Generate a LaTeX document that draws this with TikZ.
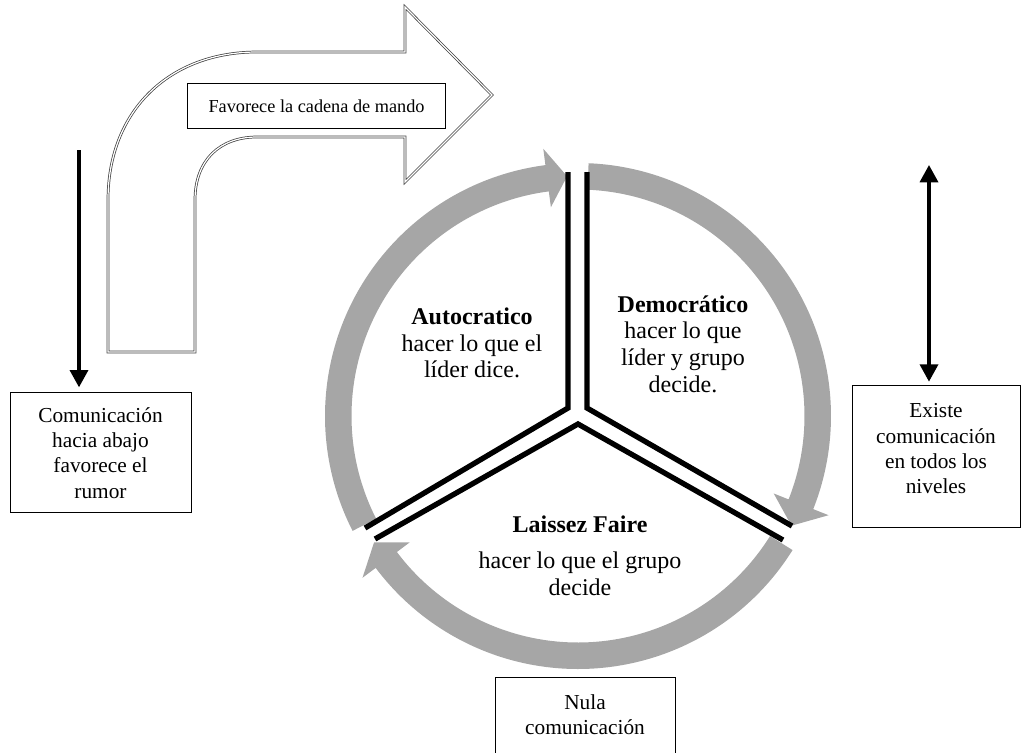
\documentclass[tikz,border=0pt]{standalone}
\usepackage{fontspec}
\setmainfont{Liberation Serif}
\usetikzlibrary{arrows.meta}
\definecolor{ringgray}{RGB}{166,166,166}

\begin{document}
\begin{tikzpicture}[x=0.75pt,y=-0.75pt,
  ringpart/.style={fill=ringgray,draw=none},
  divider/.style={line width=4pt,line cap=butt,line join=miter},
  bentarrow/.style={draw=black!75,double=white,double distance=0.9pt,line width=0.55pt,line join=miter},
  infobox/.style={draw=black,line width=0.8pt,fill=white,inner sep=0pt},
  boxtext/.style={align=center,font=\fontsize{16}{19}\selectfont,inner sep=0pt},
  sectortext/.style={align=center,font=\fontsize{18}{20}\selectfont,inner sep=0pt},
  flow/.style={line width=2.6pt,-{Triangle[width=13.5pt,length=13pt]}},
  bothflow/.style={line width=2.6pt,{Triangle[width=13.5pt,length=13pt]}-{Triangle[width=13.5pt,length=13pt]}}]

\clip (0,0) rectangle (1021,753);
\useasboundingbox (0,0) rectangle (1021,753);

% bent arrow in the upper left
\path[bentarrow,fill=white] (108,352) -- (108,200)
  .. controls (108,110) and (170,52) .. (257,52)
  -- (405,52) -- (405,7) -- (492,95) -- (405,182) -- (405,137) -- (257,137)
  .. controls (220,137) and (195,160) .. (195,200)
  -- (195,352) -- cycle;
\node[infobox,minimum width=193.5pt,minimum height=33.75pt,anchor=north west,
      font=\fontsize{13.7}{16}\selectfont] (chain) at (187,83) {Favorece la cadena de mando};

% circular arrows of the ring (angles measured clockwise on the page)
\newcommand{\ringseg}[3]{%
  \fill[ringpart] (#1:253) arc[start angle=#1,end angle=#2,radius=253]
    -- (#2:269.5) -- (#3:240) -- (#2:210.5)
    -- (#2:226.5) arc[start angle=#2,end angle=#1,radius=226.5] -- cycle;}
\begin{scope}[shift={(578,416)}]
  \ringseg{153}{262.6}{267.4}
  \ringseg{272.4}{381.6}{387.2}
  \ringseg{32}{143.1}{148.2}
\end{scope}

% sector borders
\coordinate (aTop) at (568,172);
\coordinate (aMid) at (568,408);
\coordinate (aEnd) at (365,528);
\coordinate (dTop) at (587,172);
\coordinate (dMid) at (587,408);
\coordinate (dEnd) at (792,526);
\coordinate (lLeft) at (375,539);
\coordinate (lMid) at (578,424);
\coordinate (lRight) at (783,540);
\draw[divider] (aTop) -- (aMid) -- (aEnd);
\draw[divider] (dTop) -- (dMid) -- (dEnd);
\draw[divider] (lLeft) -- (lMid) -- (lRight);

% sector texts
\node[sectortext] (auto) at (472,343) {\textbf{Autocratico}\\hacer lo que el\\líder dice.};
\node[sectortext] (demo) at (683,344) {\textbf{Democrático}\\hacer lo que\\líder y grupo\\decide.};
\node[sectortext] (laissez) at (580,556) {\textbf{Laissez Faire}\\[7pt]hacer lo que el grupo\\decide};

% left side
\node[infobox,minimum width=135.75pt,minimum height=90pt,anchor=north west] (down) at (10,392) {};
\node[boxtext] (downtext) at (100.5,453) {Comunicación\\hacia abajo\\favorece el\\rumor};
\coordinate (downStart) at (79,150);
\draw[flow,shorten >=3.5pt] (downStart) -- (downStart |- down.north);

% right side
\node[infobox,minimum width=126pt,minimum height=106.5pt,anchor=north west] (all) at (852,385) {};
\node[boxtext] (alltext) at (936,449) {Existe\\comunicación\\en todos los\\niveles};
\coordinate (allStart) at (929,165);
\draw[bothflow,shorten >=2.5pt] (allStart) -- (allStart |- all.north);

% bottom box
\node[infobox,minimum width=135pt,minimum height=75pt,anchor=north west] (none) at (495,677) {};
\node[boxtext] (nonetext) at (585,714.5) {Nula\\comunicación};

\end{tikzpicture}
\end{document}
